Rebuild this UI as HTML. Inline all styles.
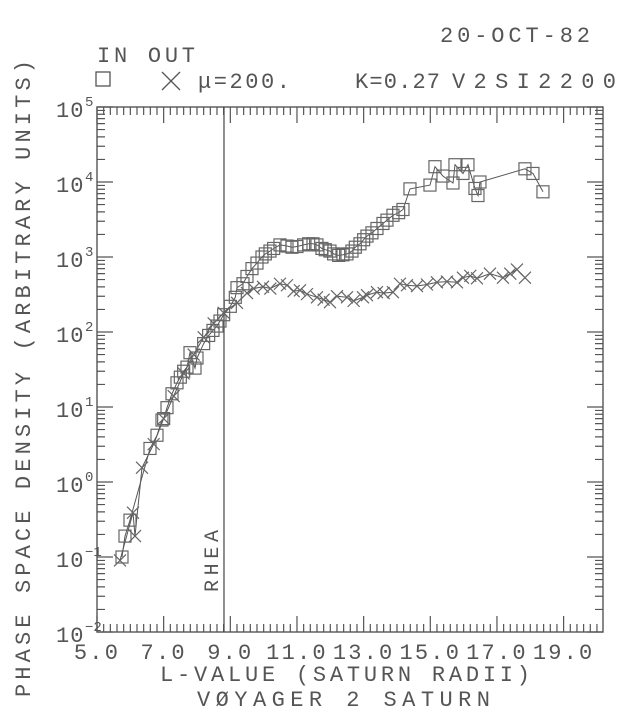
<!DOCTYPE html>
<html><head><meta charset="utf-8">
<style>
html,body{margin:0;padding:0;background:#fff;}
svg text{font-family:"Liberation Mono",monospace;fill:#555;}
</style></head>
<body>
<svg id="chart" width="640" height="718" viewBox="0 0 640 718" xmlns="http://www.w3.org/2000/svg">
<g id="labels">
<text x="440" y="42" font-size="22" textLength="150" lengthAdjust="spacing">20-OCT-82</text>
<text x="97" y="62" font-size="22" textLength="98" lengthAdjust="spacing">IN OUT</text>
<rect x="96" y="72" width="14" height="14" fill="none" stroke="#555" stroke-width="1.3"/>
<path d="M162 72 L180 90 M180 72 L162 90" stroke="#555" stroke-width="1.3"/>
<text x="198" y="88" font-size="22" textLength="92" lengthAdjust="spacing">μ=200.</text>
<text x="355" y="88" font-size="22" textLength="85" lengthAdjust="spacing">K=0.27</text>
<text x="452" y="88" font-size="22" textLength="164" lengthAdjust="spacing">V2SI2200</text>
<text transform="translate(30,697) rotate(-90)" font-size="22" textLength="637" lengthAdjust="spacing">PHASE SPACE DENSITY (ARBITRARY UNITS)</text>
<text x="160" y="681" font-size="22" textLength="370" lengthAdjust="spacing">L-VALUE (SATURN RADII)</text>
<text x="197" y="706" font-size="22" textLength="293" lengthAdjust="spacing">VØYAGER 2 SATURN</text>
<text transform="translate(218,592) rotate(-90)" font-size="20" textLength="62" lengthAdjust="spacing">RHEA</text>
</g>
<g id="axes"></g>
<g id="series"></g>
</svg>
<script>
const inL = [5.75,5.84,5.99,6.59,6.8,6.95,7.0,7.1,7.25,7.4,7.5,7.6,7.7,7.79,7.94,8.0,8.2,8.35,8.48,8.6,8.69,8.8,9.0,9.15,9.2,9.38,9.5,9.65,9.8,9.95,10.05,10.19,10.3,10.49,10.7,10.85,11.0,11.2,11.35,11.48,11.6,11.75,11.85,11.99,12.1,12.25,12.38,12.5,12.65,12.75,12.89,13.0,13.1,13.25,13.4,13.58,13.7,13.88,14.05,14.18,14.39,14.99,15.14,15.38,15.68,15.74,15.98,16.13,16.34,16.43,16.49,17.84,18.08,18.38];
const inV = [0.1,0.19,0.31,2.8,4.2,6.7,7,9.8,15,21,25,30,34,53,33,45,70,90,105,120,140,170,220,290,390,440,550,700,830,1000,1100,1200,1300,1450,1400,1350,1380,1450,1500,1500,1450,1300,1250,1200,1100,1050,1070,1100,1200,1350,1500,1700,1900,2100,2400,2800,3100,3600,3900,4300,8100,9100,16000,12000,9700,17000,13000,17000,8200,6600,10000,15000,13000,7400];
const outL = [5.69,6.08,6.14,6.35,6.7,7.0,7.3,7.6,7.9,8.2,8.5,8.8,9.2,9.5,9.7,9.98,10.2,10.49,10.7,10.9,11.09,11.3,11.6,11.8,11.99,12.2,12.5,12.7,12.98,13.1,13.4,13.6,13.88,14.09,14.3,14.6,14.9,15.2,15.5,15.8,15.98,16.2,16.4,16.79,17.18,17.4,17.6,17.84];
const outV = [0.09,0.39,0.19,1.55,3.2,7,14,28,50,85,130,180,245,330,380,400,380,440,420,350,360,320,290,270,250,300,290,260,290,310,340,330,340,440,420,410,430,460,470,460,530,560,520,600,530,600,680,530];
const xMajor = [5,7,9,11,13,15,17,19];
const xTickLabels = ["5.0","7.0","9.0","11.0","13.0","15.0","17.0","19.0"];
const yExponents = [-2,-1,0,1,2,3,4,5];
const rheaL = 8.81;

const X0=97, X1=603, Y0=107, Y1=632;
const xs = L => X0 + (L-5)*33.33;
const ys = v => Y1 - (Math.log10(v)+2)*75;
const NS="http://www.w3.org/2000/svg";
const axes=document.getElementById('axes'), ser=document.getElementById('series');
function mk(tag, attrs, parent){const e=document.createElementNS(NS,tag);for(const k in attrs)e.setAttribute(k,attrs[k]);parent.appendChild(e);return e;}

const frame=mk('rect',{x:X0,y:Y0,width:X1-X0,height:Y1-Y0,fill:'none',stroke:'#555','stroke-width':1.4},axes);



let d='';
for(let i=0;;i++){const L=5+i*0.2;const x=xs(L);if(x>X1+0.5)break;
  const major=Math.abs((L-5)/2-Math.round((L-5)/2))<1e-6;const len=major?16:8;
  d+=`M${x} ${Y1}V${Y1-len}M${x} ${Y0}V${Y0+len}`;}
for(const e of yExponents){for(let m=1;m<10;m++){if(e===5&&m>1)break;const y=ys(m*Math.pow(10,e));const len=m===1?16:8;
  d+=`M${X0} ${y}H${X0+len}M${X1} ${y}H${X1-len}`;}}
const ticks=mk('path',{d:d,stroke:'#555','stroke-width':1.2,fill:'none'},axes);



xMajor.forEach((L,i)=>{const t=mk('text',{x:xs(L),y:659,'font-size':22,'text-anchor':'middle','letter-spacing':2.2},axes);t.textContent=xTickLabels[i];
  
  });
yExponents.forEach(e=>{const y=ys(Math.pow(10,e));const t=mk('text',{x:56,y:y+10,'font-size':22,'letter-spacing':1},axes);t.textContent='10';
  
  
  const s=mk('text',{x:85,y:y-1,'font-size':14},axes);s.textContent=String(e).replace('-','−');
  
  });

const rl=mk('line',{x1:xs(rheaL),x2:xs(rheaL),y1:Y0,y2:Y1,stroke:'#444','stroke-width':1.2},axes);



function line(L,V,name){let p='';L.forEach((l,i)=>{p+=(i?'L':'M')+xs(l).toFixed(1)+' '+ys(V[i]).toFixed(1);});
  const e=mk('path',{d:p,fill:'none',stroke:'#555','stroke-width':1},ser);
  
  }
line(inL,inV,'in-series-line');
line(outL,outV,'out-series-line');
inL.forEach((l,i)=>{const x=xs(l),y=ys(inV[i]);
  const r=mk('rect',{x:x-6,y:y-6,width:12,height:12,fill:'none',stroke:'#666','stroke-width':1.2},ser);
  
  });
outL.forEach((l,i)=>{const x=xs(l),y=ys(outV[i]);
  const c=mk('path',{d:`M${x-6} ${y-6}L${x+6} ${y+6}M${x+6} ${y-6}L${x-6} ${y+6}`,stroke:'#666','stroke-width':1.2},ser);
  
  });
</script>
</body></html>
